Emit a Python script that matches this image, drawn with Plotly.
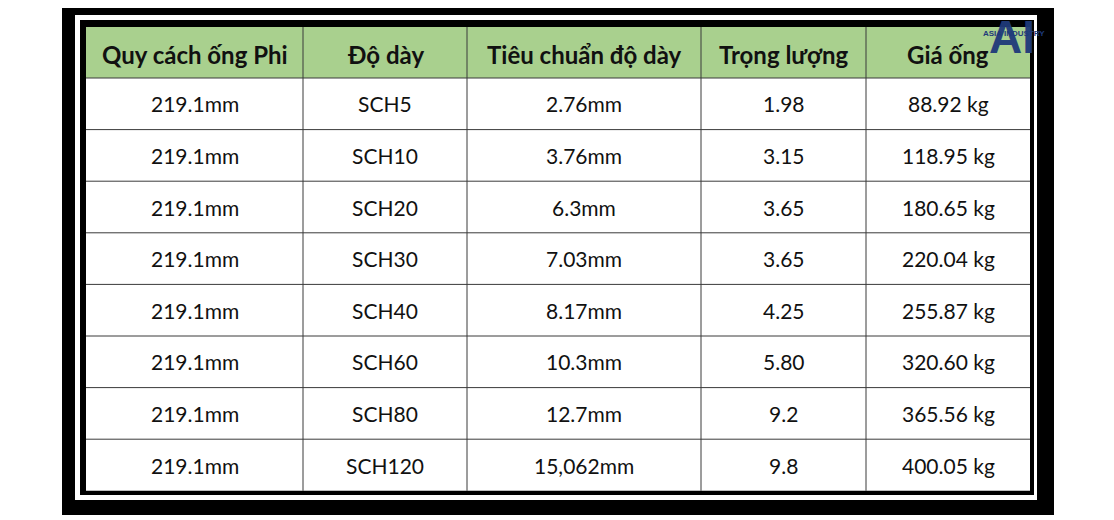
import plotly.graph_objects as go

headers = ["Quy cách ống Phi", "Độ dày", "Tiêu chuẩn độ dày", "Trọng lượng", "Giá ống"]
quy_cach = ["219.1mm"] * 8
do_day = ["SCH5", "SCH10", "SCH20", "SCH30", "SCH40", "SCH60", "SCH80", "SCH120"]
tieu_chuan = ["2.76mm", "3.76mm", "6.3mm", "7.03mm", "8.17mm", "10.3mm", "12.7mm", "15,062mm"]
trong_luong = ["1.98", "3.15", "3.65", "3.65", "4.25", "5.80", "9.2", "9.8"]
gia_ong = ["88.92 kg", "118.95 kg", "180.65 kg", "220.04 kg", "255.87 kg", "320.60 kg", "365.56 kg", "400.05 kg"]

columns = [quy_cach, do_day, tieu_chuan, trong_luong, gia_ong]

W, H = 1114, 520
OFF = 8  # page body margin
col_edges = [86, 303, 467, 701, 866, 1030]
top, header_h, row_h = 27, 51, 51.6
n_rows = len(quy_cach)
bottom = top + header_h + n_rows * row_h

def px(x): return (x - OFF) / W
def py(y): return 1 - (y - OFF) / H

def rect(x0, x1, y0, y1, fill, line=None):
    return dict(type="rect", xref="paper", yref="paper", x0=px(x0), x1=px(x1), y0=py(y1), y1=py(y0),
                fillcolor=fill, line=line or dict(width=0), layer="above")

shapes = [
    rect(62, 1054, 2, 515, "black"),
    rect(75, 1037, 15, 500, "white"),
    rect(80, 1034, 20, 495, "black"),
    rect(col_edges[0], col_edges[-1], top, bottom, "white"),
    rect(col_edges[0], col_edges[-1], top, top + header_h, "#A9D08E"),
]
line = dict(color="#3a3a3a", width=1)
for x in col_edges[1:-1]:
    shapes.append(dict(type="line", xref="paper", yref="paper", x0=px(x), x1=px(x), y0=py(top), y1=py(bottom), line=line))
for i in range(n_rows):
    y = top + header_h + i * row_h
    shapes.append(dict(type="line", xref="paper", yref="paper", x0=px(col_edges[0]), x1=px(col_edges[-1]), y0=py(y), y1=py(y), line=line))

def ann(x, y, text, font, **kw):
    return dict(x=px(x), y=py(y), xref="paper", yref="paper", text=text, showarrow=False,
                xanchor="center", yanchor="middle", font=font, **kw)

annotations = []
for j, h in enumerate(headers):
    cx = (col_edges[j] + col_edges[j + 1]) / 2
    annotations.append(ann(cx, top + header_h / 2 + 2, f"<b>{h}</b>", dict(family="Lato", size=24, color="#111111")))
    for i, v in enumerate(columns[j]):
        cy = top + header_h + i * row_h + row_h / 2
        annotations.append(ann(cx, cy, v, dict(family="Lato", size=21, color="#111111")))

annotations += [
    ann(1012, 37, "<b>AI</b>", dict(family="Liberation Sans", size=46, color="#1F3A7A"), opacity=0.95),
    ann(1014, 33, "<b>ASIA INDUSTRY</b>", dict(family="Liberation Sans", size=8, color="#1F3A7A")),
]

fig = go.Figure()
fig.update_layout(
    width=W, height=H, margin=dict(l=0, r=0, t=0, b=0),
    paper_bgcolor="white", plot_bgcolor="white", shapes=shapes, annotations=annotations,
    xaxis=dict(visible=False), yaxis=dict(visible=False),
)
fig.write_html("out.html")
